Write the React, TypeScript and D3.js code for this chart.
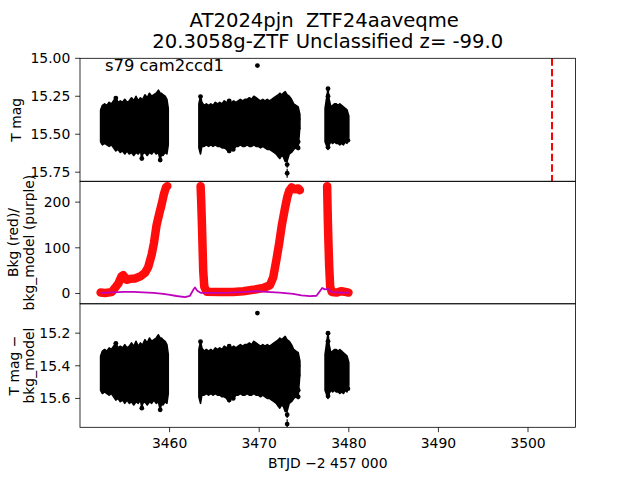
import React from 'react';
import * as d3 from 'd3';

// ---------------- DATA ----------------
const titleLines = ['AT2024pjn  ZTF24aaveqme', '20.3058g-ZTF Unclassified z= -99.0'];
const sectorLabel = 's79 cam2ccd1';
const xTicks = [3460, 3470, 3480, 3490, 3500];
const magTicksTop = [15.0, 15.25, 15.5, 15.75];
const bkgTicks = [0, 100, 200];
const magTicksBottom = [15.2, 15.4, 15.6];
const discoveryTime = 3502.68;

// light-curve envelope (faint/bright edges of dense photometry), segment 1
const seg1Time = [3452.30, 3452.50, 3452.75, 3453.00, 3453.25, 3453.50, 3453.75, 3454.00, 3454.25, 3454.50, 3454.75, 3455.00, 3455.25, 3455.50, 3455.75, 3456.00, 3456.25, 3456.50, 3456.75, 3456.90, 3457.00, 3457.25, 3457.50, 3457.75, 3458.00, 3458.25, 3458.50, 3458.75, 3458.95, 3459.10, 3459.25, 3459.50, 3459.70, 3459.85];
const seg1Bright = [15.34, 15.31, 15.30, 15.31, 15.29, 15.30, 15.28, 15.26, 15.29, 15.28, 15.29, 15.27, 15.29, 15.28, 15.26, 15.28, 15.25, 15.28, 15.26, 15.27, 15.27, 15.24, 15.26, 15.23, 15.25, 15.24, 15.23, 15.21, 15.23, 15.23, 15.24, 15.25, 15.27, 15.33];
const seg1Faint = [15.55, 15.57, 15.56, 15.57, 15.58, 15.57, 15.59, 15.61, 15.60, 15.62, 15.61, 15.63, 15.61, 15.63, 15.62, 15.64, 15.62, 15.63, 15.61, 15.66, 15.63, 15.62, 15.64, 15.62, 15.63, 15.61, 15.63, 15.62, 15.67, 15.63, 15.64, 15.62, 15.63, 15.57];

// segment 2
const seg2Time = [3463.27, 3463.45, 3463.60, 3463.85, 3464.10, 3464.35, 3464.60, 3464.85, 3465.10, 3465.35, 3465.60, 3465.85, 3466.10, 3466.35, 3466.65, 3466.90, 3467.15, 3467.40, 3467.65, 3467.90, 3468.15, 3468.40, 3468.65, 3468.90, 3469.15, 3469.40, 3469.65, 3469.90, 3470.15, 3470.40, 3470.65, 3470.90, 3471.15, 3471.40, 3471.65, 3471.90, 3472.15, 3472.30, 3472.50, 3472.70, 3472.90, 3473.10, 3473.35, 3473.60, 3473.85, 3474.10, 3474.35, 3474.54];
const seg2Bright = [15.30, 15.25, 15.29, 15.31, 15.30, 15.31, 15.30, 15.31, 15.29, 15.30, 15.29, 15.30, 15.28, 15.29, 15.28, 15.29, 15.28, 15.29, 15.28, 15.27, 15.28, 15.27, 15.27, 15.26, 15.27, 15.25, 15.26, 15.27, 15.28, 15.27, 15.28, 15.27, 15.28, 15.27, 15.26, 15.25, 15.24, 15.23, 15.24, 15.23, 15.22, 15.24, 15.25, 15.27, 15.30, 15.31, 15.32, 15.37];
const seg2Faint = [15.59, 15.63, 15.58, 15.58, 15.57, 15.58, 15.57, 15.58, 15.57, 15.58, 15.58, 15.59, 15.59, 15.60, 15.62, 15.59, 15.60, 15.58, 15.58, 15.57, 15.58, 15.58, 15.57, 15.58, 15.58, 15.57, 15.58, 15.58, 15.59, 15.58, 15.59, 15.60, 15.60, 15.61, 15.62, 15.63, 15.65, 15.66, 15.64, 15.65, 15.68, 15.68, 15.63, 15.62, 15.60, 15.59, 15.59, 15.45];

// segment 3
const seg3Time = [3477.35, 3477.55, 3477.68, 3477.80, 3478.00, 3478.20, 3478.40, 3478.60, 3478.80, 3479.00, 3479.20, 3479.40, 3479.60, 3479.80, 3480.00];
const seg3Bright = [15.33, 15.25, 15.20, 15.27, 15.32, 15.31, 15.30, 15.30, 15.31, 15.30, 15.31, 15.32, 15.33, 15.34, 15.38];
const seg3Faint = [15.55, 15.58, 15.60, 15.57, 15.55, 15.56, 15.55, 15.56, 15.56, 15.57, 15.56, 15.57, 15.55, 15.56, 15.52];

// isolated points with error bars
const outTime = [3469.80, 3473.12, 3473.12, 3474.35, 3474.35, 3474.35, 3474.35, 3477.68, 3477.68, 3477.68, 3454.00, 3456.90, 3458.95, 3463.45, 3466.65, 3466.65, 3467.10, 3479.90];
const outMag = [15.048, 15.757, 15.70, 15.40, 15.46, 15.55, 15.59, 15.20, 15.25, 15.585, 15.262, 15.66, 15.67, 15.252, 15.28, 15.61, 15.60, 15.54];
const outMagDetrended = [15.077, 15.757, 15.70, 15.40, 15.46, 15.55, 15.59, 15.20, 15.25, 15.585, 15.262, 15.66, 15.67, 15.252, 15.28, 15.61, 15.60, 15.54];
const outErr = [0.008, 0.03, 0.02, 0.01, 0.01, 0.01, 0.015, 0.01, 0.01, 0.01, 0.01, 0.01, 0.01, 0.01, 0.01, 0.01, 0.01, 0.01];

// background flux (red)
const bkg1Time = [3452.30, 3452.79, 3453.53, 3453.90, 3454.28, 3454.65, 3454.83, 3455.20, 3455.58, 3456.13, 3456.69, 3457.25, 3457.62, 3458.00, 3458.25, 3458.55, 3458.85, 3459.11, 3459.37, 3459.59, 3459.74];
const bkg1Val = [2, 1, 3, 12, 22, 38, 40, 30, 32, 33, 37, 45, 58, 85, 110, 150, 175, 195, 218, 232, 235];
const bkg2Time = [3463.46, 3463.53, 3463.61, 3463.68, 3463.75, 3463.87, 3464.13, 3465.61, 3467.10, 3468.22, 3469.33, 3470.45, 3471.19, 3471.56, 3471.93, 3472.23, 3472.53, 3472.86, 3473.12, 3473.35, 3473.61, 3473.98, 3474.35, 3474.54];
const bkg2Val = [235, 200, 150, 100, 50, 15, 4, 3, 3, 5, 8, 12, 18, 35, 75, 110, 150, 185, 210, 225, 232, 228, 230, 226];
const bkg3Time = [3477.58, 3477.66, 3477.73, 3477.81, 3477.92, 3478.10, 3478.62, 3479.18, 3479.74, 3479.96];
const bkg3Val = [235, 160, 110, 60, 15, 3, 2, 5, 3, 2];

// background model (purple)
const modelTime = [3452.30, 3453.72, 3454.83, 3455.95, 3457.06, 3458.18, 3459.29, 3460.04, 3460.78, 3461.71, 3462.27, 3462.64, 3462.83, 3463.09, 3463.46, 3464.87, 3466.73, 3468.59, 3469.70, 3470.82, 3472.30, 3473.79, 3474.72, 3475.65, 3476.39, 3476.77, 3477.03, 3477.32, 3477.70, 3478.07, 3479.00, 3480.04];
const modelVal = [1.5, 2.5, 3.5, 3.5, 2.5, 1.5, -1, -3, -5.5, -8, -5, 8, 13, 6, 1.5, 1.5, 2, 3.5, 5, 3.5, 2, -1, -4, -6, -5, 5, 12, 9, 10, 3, 2, 2];

// ---------------- LAYOUT ----------------
const W = 640, H = 480;
const L = 80, R = 575.5;
const P = [
  { top: 58.3, bottom: 181.3 },
  { top: 181.3, bottom: 303.8 },
  { top: 303.8, bottom: 427.3 },
];
const FONT = 'DejaVu Sans, Liberation Sans, sans-serif';
const TICK = 4.86;
const PAD = 4.86;
const FS = 13.9;

const x = d3.scaleLinear().domain([3450.0, 3505.3]).range([L, R]);
const yTop = d3.scaleLinear().domain([15.0, 15.81]).range([P[0].top, P[0].bottom]);
const yMid = d3.scaleLinear().domain([245.6, -22.6]).range([P[1].top, P[1].bottom]);
const yBot = d3.scaleLinear().domain([15.02, 15.777]).range([P[2].top, P[2].bottom]);

const segments = [
  { t: seg1Time, b: seg1Bright, f: seg1Faint },
  { t: seg2Time, b: seg2Bright, f: seg2Faint },
  { t: seg3Time, b: seg3Bright, f: seg3Faint },
];

function Blobs({ y, outs }: { y: d3.ScaleLinear<number, number>; outs: number[] }) {
  return (
    <g>
      {segments.map((s, i) => {
        const pts = s.t.map((t, k) => ({ t, b: s.b[k], f: s.f[k] }));
        const area = d3.area<any>().x((d) => x(d.t)).y0((d) => y(d.f)).y1((d) => y(d.b));
        return <path key={i} d={area(pts) || ''} fill="#000" stroke="#000" strokeWidth={1.6} strokeLinejoin="round" />;
      })}
      {outTime.map((t, i) => (
        <g key={'o' + i}>
          <line x1={x(t)} x2={x(t)} y1={y(outs[i] - outErr[i])} y2={y(outs[i] + outErr[i])} stroke="#000" strokeWidth={1.2} />
          <circle cx={x(t)} cy={y(outs[i])} r={2.4} fill="#000" />
        </g>
      ))}
    </g>
  );
}

function YAxis({ y, ticks, fmt }: { y: d3.ScaleLinear<number, number>; ticks: number[]; fmt: (v: number) => string }) {
  return (
    <g>
      {ticks.map((v) => (
        <g key={v}>
          <line x1={L - TICK} x2={L} y1={y(v)} y2={y(v)} stroke="#000" strokeWidth={0.8} />
          <text x={L - TICK - PAD} y={y(v)} dy="0.36em" textAnchor="end" fontSize={FS} fontFamily={FONT}>{fmt(v)}</text>
        </g>
      ))}
    </g>
  );
}

export default function App() {
  const redLine = d3.line<any>().x((d) => x(d[0])).y((d) => yMid(d[1]));
  const bkgSegs = [
    bkg1Time.map((t, i) => [t, bkg1Val[i]]),
    bkg2Time.map((t, i) => [t, bkg2Val[i]]),
    bkg3Time.map((t, i) => [t, bkg3Val[i]]),
  ];
  const modelPts = modelTime.map((t, i) => [t, modelVal[i]]);
  const cx = (L + R) / 2;

  return (
    <svg width={W} height={H} style={{ display: 'block', position: 'absolute', left: 0, top: 0, background: '#fff' }}>
      <rect x={0} y={0} width={W} height={H} fill="#fff" />
      <defs>
        {P.map((p, i) => (
          <clipPath id={'clip' + i} key={i}>
            <rect x={L} y={p.top} width={R - L} height={p.bottom - p.top} />
          </clipPath>
        ))}
      </defs>

      {/* title */}
      <text x={cx - 3.5} y={26.7} textAnchor="middle" fontSize={19.6} fontFamily={FONT} style={{ whiteSpace: 'pre' }}>{titleLines[0]}</text>
      <text x={cx} y={48.3} textAnchor="middle" fontSize={19.6} fontFamily={FONT} style={{ whiteSpace: 'pre' }}>{titleLines[1]}</text>

      {/* top panel */}
      <g clipPath="url(#clip0)">
        <Blobs y={yTop} outs={outMag} />
        <line x1={x(discoveryTime)} x2={x(discoveryTime)} y1={P[0].top} y2={P[0].bottom} stroke="red" strokeWidth={2} strokeDasharray="7.4,3.2" />
      </g>
      <text x={105} y={70.7} fontSize={16.4} fontFamily={FONT}>{sectorLabel}</text>
      <YAxis y={yTop} ticks={magTicksTop} fmt={(v) => v.toFixed(2)} />
      <text transform={`translate(21,${(P[0].top + P[0].bottom) / 2}) rotate(-90)`} textAnchor="middle" fontSize={FS} fontFamily={FONT}>T mag</text>

      {/* middle panel */}
      <g clipPath="url(#clip1)">
        {bkgSegs.map((s, i) => (
          <path key={i} d={redLine(s as any) || ''} fill="none" stroke="red" strokeWidth={8.5} strokeLinejoin="round" strokeLinecap="round" opacity={0.95} />
        ))}
        <path d={redLine(modelPts as any) || ''} fill="none" stroke="#bf00bf" strokeWidth={1.8} strokeLinejoin="round" />
      </g>
      <YAxis y={yMid} ticks={bkgTicks} fmt={(v) => String(v)} />
      <text transform={`translate(17.5,${(P[1].top + P[1].bottom) / 2}) rotate(-90)`} textAnchor="middle" fontSize={FS} fontFamily={FONT}>Bkg (red)/</text>
      <text transform={`translate(33.5,${(P[1].top + P[1].bottom) / 2}) rotate(-90)`} textAnchor="middle" fontSize={FS} fontFamily={FONT}>bkg_model (purple)</text>

      {/* bottom panel */}
      <g clipPath="url(#clip2)">
        <Blobs y={yBot} outs={outMagDetrended} />
      </g>
      <YAxis y={yBot} ticks={magTicksBottom} fmt={(v) => v.toFixed(1)} />
      <text transform={`translate(18.5,${(P[2].top + P[2].bottom) / 2}) rotate(-90)`} textAnchor="middle" fontSize={FS} fontFamily={FONT}>T mag −</text>
      <text transform={`translate(33.5,${(P[2].top + P[2].bottom) / 2}) rotate(-90)`} textAnchor="middle" fontSize={FS} fontFamily={FONT}>bkg_model</text>

      {/* x axis */}
      {xTicks.map((v) => (
        <g key={v}>
          <line x1={x(v)} x2={x(v)} y1={P[2].bottom} y2={P[2].bottom + TICK} stroke="#000" strokeWidth={0.8} />
          <text x={x(v)} y={448} textAnchor="middle" fontSize={FS} fontFamily={FONT}>{v}</text>
        </g>
      ))}
      <text x={cx} y={468} textAnchor="middle" fontSize={FS} fontFamily={FONT}>BTJD −2 457 000</text>

      {/* frames */}
      {P.map((p, i) => (
        <rect key={i} x={L} y={p.top} width={R - L} height={p.bottom - p.top} fill="none" stroke="#000" strokeWidth={0.8} />
      ))}
    </svg>
  );
}
